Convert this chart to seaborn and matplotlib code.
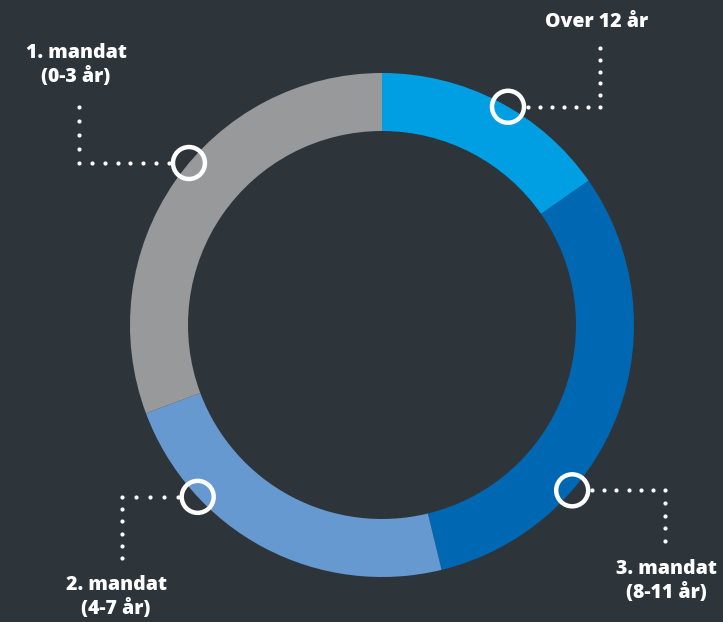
import numpy as np
import matplotlib
matplotlib.use("Agg")
import matplotlib.pyplot as plt
import seaborn as sns

# Shares of the ring, clockwise from 12 o'clock
labels = ["Over 12 år", "3. mandat\n(8-11 år)", "2. mandat\n(4-7 år)", "1. mandat\n(0-3 år)"]
shares = [15.3, 30.9, 23.1, 30.7]
colors = ["#009FE3", "#0067B2", "#6699D0", "#97999B"]

# Where each marker sits on the outer edge (degrees clockwise from top)
marker_angles = [30, 131, 227, 310]

BG = "#2E353A"

sns.set_theme(style="white")
plt.rcParams["font.family"] = ["Open Sans", "DejaVu Sans"]

fig = plt.figure(figsize=(7.23, 6.22), dpi=100, facecolor=BG)
ax = fig.add_axes([0, 0, 1, 1])
ax.set_facecolor(BG)

cx, cy, R, W = 382, 325, 252, 58

# y axis is inverted (pixel style), so -90 is the top and ccw in data is cw on screen
ax.pie(shares, colors=colors, startangle=-90, counterclock=True,
       radius=R, center=(cx, cy),
       wedgeprops=dict(width=W, linewidth=0))
ax.set_xlim(0, 723)
ax.set_ylim(622, 0)
ax.set_aspect("equal")
ax.axis("off")

# leader lines: (horizontal end x, vertical end y) per marker
leaders = [(600, 48), (665, 541), (122, 558), (79, 107)]
label_pos = [(597, 22), (666, 581), (116, 597), (76, 65)]

for ang, (lx, ly), (tx, ty), lab in zip(marker_angles, leaders, label_pos, labels):
    a = np.deg2rad(ang)
    mx = cx + R * np.sin(a)
    my = cy - R * np.cos(a)
    ax.add_patch(plt.Circle((mx, my), 16, fill=False, edgecolor="white",
                            linewidth=3.2, zorder=5))
    sx = mx + 20 if lx > mx else mx - 20
    n = int(abs(lx - sx) // 12) + 1
    hx = np.linspace(sx, lx, n)
    ax.scatter(hx, np.full(n, my), s=9, color="white", zorder=4, linewidths=0)
    m = int(abs(ly - my) // 11.5) + 1
    vy = np.linspace(my, ly, m)[1:]
    ax.scatter(np.full(len(vy), lx), vy, s=9, color="white", zorder=4, linewidths=0)
    ax.text(tx, ty, lab, color="white", fontsize=14, fontweight="heavy",
            ha="center", va="center", linespacing=1.25)

fig.savefig("out.png", dpi=100, facecolor=BG)
